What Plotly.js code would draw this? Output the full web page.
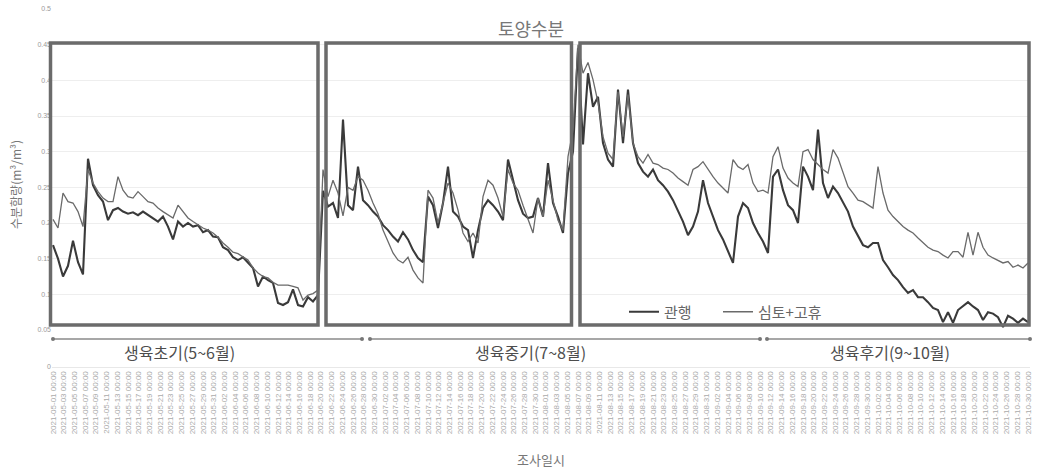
<!DOCTYPE html>
<html><head><meta charset="utf-8">
<script src="https://cdn.plot.ly/plotly-3.0.1.min.js"></script>
<style>html,body{margin:0;padding:0;background:#fff}#chart{width:1038px;height:471px}</style>
</head><body><div id="chart"></div>
<script>
const seriesNames = ['관행', '심토+고휴'];
const chartTitle = '토양수분';
const yTitle = '수분함량(m³/m³)';
const xTitle = '조사일시';
const periodLabels = ['생육초기(5~6월)', '생육중기(7~8월)', '생육후기(9~10월)'];

// 관행
const conventional = [
0.169,0.15,0.125,0.14,0.175,0.145,0.128,0.29,0.253,0.239,
0.23,0.204,0.218,0.221,0.216,0.213,0.215,0.211,0.216,0.211,
0.207,0.202,0.209,0.195,0.177,0.202,0.195,0.2,0.195,0.197,
0.187,0.19,0.181,0.18,0.166,0.162,0.152,0.148,0.152,0.144,
0.137,0.111,0.125,0.12,0.116,0.088,0.085,0.089,0.107,0.085,
0.083,0.096,0.09,0.099,0.245,0.223,0.228,0.207,0.345,0.225,
0.218,0.279,0.232,0.225,0.216,0.209,0.197,0.19,0.181,0.174,
0.187,0.177,0.162,0.151,0.145,0.237,0.225,0.193,0.228,0.279,
0.216,0.209,0.195,0.19,0.151,0.19,0.221,0.232,0.225,0.216,
0.204,0.289,0.26,0.232,0.213,0.207,0.209,0.235,0.209,0.284,
0.228,0.209,0.186,0.27,0.3,0.445,0.31,0.41,0.363,0.377,
0.312,0.289,0.279,0.387,0.312,0.387,0.312,0.284,0.272,0.265,
0.275,0.26,0.253,0.244,0.232,0.218,0.202,0.183,0.195,0.216,
0.26,0.228,0.209,0.19,0.177,0.16,0.144,0.209,0.228,0.221,
0.2,0.186,0.174,0.158,0.265,0.275,0.246,0.225,0.218,0.2,
0.279,0.265,0.246,0.331,0.256,0.235,0.251,0.242,0.228,0.216,
0.195,0.181,0.169,0.166,0.172,0.172,0.148,0.138,0.127,0.12,
0.11,0.102,0.106,0.096,0.096,0.089,0.081,0.078,0.061,0.075,
0.06,0.078,0.083,0.089,0.083,0.078,0.064,0.075,0.073,0.068,
0.054,0.07,0.066,0.06,0.066,0.061
];

// 심토+고휴
const subsoilRidge = [
0.205,0.193,0.242,0.23,0.228,0.216,0.195,0.275,0.256,0.244,
0.235,0.23,0.23,0.265,0.246,0.237,0.235,0.244,0.237,0.23,
0.228,0.221,0.216,0.211,0.207,0.225,0.216,0.207,0.202,0.197,
0.193,0.19,0.186,0.18,0.172,0.166,0.159,0.157,0.152,0.148,
0.137,0.13,0.125,0.123,0.117,0.113,0.113,0.113,0.111,0.109,
0.092,0.099,0.101,0.106,0.275,0.237,0.26,0.242,0.21,0.25,
0.246,0.265,0.26,0.246,0.228,0.213,0.19,0.174,0.158,0.148,
0.144,0.152,0.134,0.123,0.116,0.246,0.235,0.2,0.228,0.256,
0.242,0.218,0.186,0.174,0.186,0.172,0.237,0.26,0.253,0.235,
0.209,0.275,0.256,0.246,0.225,0.204,0.186,0.235,0.209,0.26,
0.232,0.204,0.19,0.293,0.33,0.45,0.41,0.425,0.401,0.369,
0.321,0.298,0.289,0.384,0.321,0.38,0.312,0.293,0.284,0.296,
0.284,0.282,0.277,0.275,0.27,0.263,0.258,0.253,0.275,0.279,
0.286,0.275,0.265,0.256,0.249,0.242,0.289,0.279,0.275,0.282,
0.256,0.244,0.246,0.242,0.293,0.307,0.277,0.263,0.256,0.251,
0.3,0.303,0.289,0.282,0.275,0.27,0.303,0.291,0.272,0.251,
0.242,0.232,0.23,0.225,0.221,0.279,0.242,0.218,0.209,0.202,
0.195,0.19,0.186,0.179,0.172,0.166,0.162,0.16,0.155,0.151,
0.16,0.16,0.152,0.187,0.155,0.187,0.166,0.155,0.151,0.148,
0.144,0.146,0.138,0.141,0.137,0.144
];

// date tick labels (조사일시)
const dateLabels = [
'05-01','05-03','05-05','05-07','05-09','05-11','05-13','05-15','05-17','05-19','05-21','05-23','05-25','05-27','05-29','05-31',
'06-02','06-04','06-06','06-08','06-10','06-12','06-14','06-16','06-18','06-20','06-22','06-24','06-26','06-28','06-30',
'07-02','07-04','07-06','07-08','07-10','07-12','07-14','07-16','07-18','07-20','07-22','07-24','07-26','07-28','07-30',
'08-01','08-03','08-05','08-07','08-09','08-11','08-13','08-15','08-17','08-19','08-21','08-23','08-25','08-27','08-29','08-31',
'09-02','09-04','09-06','09-08','09-10','09-12','09-14','09-16','09-18','09-20','09-22','09-24','09-26','09-28','09-30',
'10-02','10-04','10-06','10-08','10-10','10-12','10-14','10-16','10-18','10-20','10-22','10-24','10-26','10-28','10-30'
];
const yearLabel = '2021';

const nPts = conventional.length;
const xRange = [-0.2, nPts - 0.6];
const tickPos = dateLabels.map((d, k) => k * (nPts - 1) / (dateLabels.length - 1));
const tickText = dateLabels.map(d => yearLabel + '-' + d + ' 00:00');

const FONT = 'Noto Sans CJK KR, Noto Sans, sans-serif';

const traces = [
  {y: conventional, type: 'scatter', mode: 'lines', name: seriesNames[0], legend: 'legend',
   line: {color: '#3a3a3a', width: 2.1}, xaxis: 'x', yaxis: 'y'},
  {y: subsoilRidge, type: 'scatter', mode: 'lines', name: seriesNames[1], legend: 'legend2',
   line: {color: '#6a6a6a', width: 1.3}, xaxis: 'x', yaxis: 'y'},
  {x: [0], y: [null], type: 'scatter', mode: 'lines', showlegend: false,
   hoverinfo: 'skip', xaxis: 'x2', yaxis: 'y2'}
];

// pixel helpers for paper coordinates (plot area x 52..1030, y 9..367)
const px = v => (v - 52) / 978;
const py = v => (367 - v) / 358;

const boxStyle = {color: '#6b6b6b', width: 3.5};
const shapes = [
  {type: 'rect', xref: 'paper', yref: 'paper', x0: px(50.5), x1: px(318), y0: py(325), y1: py(43), line: boxStyle},
  {type: 'rect', xref: 'paper', yref: 'paper', x0: px(326), x1: px(571.5), y0: py(325), y1: py(43), line: boxStyle},
  {type: 'rect', xref: 'paper', yref: 'paper', x0: px(580), x1: px(1029), y0: py(325), y1: py(43), line: boxStyle}
];
const segs = [[53, 362], [370, 760], [767, 1030]];
segs.forEach(s => {
  shapes.push({type: 'line', xref: 'paper', yref: 'paper', x0: px(s[0]), x1: px(s[1]), y0: py(339), y1: py(339),
    line: {color: '#8a8a8a', width: 1.5}});
  s.forEach(e => shapes.push({type: 'circle', xref: 'paper', yref: 'paper',
    x0: px(e - 2), x1: px(e + 2), y0: py(341), y1: py(337), fillcolor: '#777', line: {width: 0}}));
});

const annotations = [
  {text: periodLabels[0], x: px(179), y: py(352)},
  {text: periodLabels[1], x: px(530), y: py(352)},
  {text: periodLabels[2], x: px(890), y: py(352)}
].map(a => Object.assign(a, {xref: 'paper', yref: 'paper', showarrow: false, xanchor: 'center', yanchor: 'middle',
  font: {family: FONT, size: 16, color: '#4d4d4d'}}));
annotations.push({text: yTitle, xref: 'paper', yref: 'paper', x: px(15), y: py(185), textangle: -90,
  showarrow: false, xanchor: 'center', yanchor: 'middle', font: {family: FONT, size: 12, color: '#777'}});

const legendBase = {orientation: 'h', y: py(312), xanchor: 'left', yanchor: 'middle',
  bgcolor: 'rgba(0,0,0,0)', font: {family: FONT, size: 15, color: '#666'}, itemwidth: 30};

const layout = {
  width: 1038, height: 471, autosize: false,
  margin: {l: 52, r: 8, t: 9, b: 104},
  paper_bgcolor: '#fff', plot_bgcolor: '#fff',
  font: {family: FONT, color: '#666'},
  title: {text: chartTitle, x: 531 / 1038, xanchor: 'center', y: 1 - 30 / 471, yanchor: 'middle', yref: 'container',
    font: {family: FONT, size: 18, color: '#777'}},
  showlegend: true,
  legend: Object.assign({x: px(624)}, legendBase),
  legend2: Object.assign({x: px(718)}, legendBase),
  xaxis: {domain: [0, 1], range: xRange, showticklabels: false, showgrid: false, zeroline: false,
    showline: false, anchor: 'y', ticks: ''},
  yaxis: {domain: [py(330), 1], range: [0.05, 0.5], dtick: 0.05, tick0: 0.05, anchor: 'x',
    showgrid: true, gridcolor: '#eeeeee', gridwidth: 1, zeroline: false, showline: false, ticks: '',
    tickfont: {family: 'Liberation Sans, Arial, sans-serif', size: 7, color: '#999'}},
  xaxis2: {domain: [0, 1], range: xRange, anchor: 'y2', tickmode: 'array', tickvals: tickPos, ticktext: tickText,
    tickangle: -90, ticks: '', showgrid: false, zeroline: false, showline: true, linecolor: '#e8e8e8', linewidth: 1,
    tickfont: {family: 'Liberation Sans, Arial, sans-serif', size: 8, color: '#aaa'},
    title: {text: xTitle, standoff: 22, font: {family: FONT, size: 13, color: '#777'}}},
  yaxis2: {domain: [0, 0.02], range: [0, 1], anchor: 'x2', tickmode: 'array', tickvals: [0], ticktext: ['0'],
    showgrid: false, zeroline: false, showline: false, ticks: '',
    tickfont: {family: 'Liberation Sans, Arial, sans-serif', size: 7, color: '#999'}},
  shapes: shapes,
  annotations: annotations,
  hovermode: false
};

Plotly.newPlot('chart', traces, layout, {displayModeBar: false, staticPlot: true});
</script>
</body></html>
